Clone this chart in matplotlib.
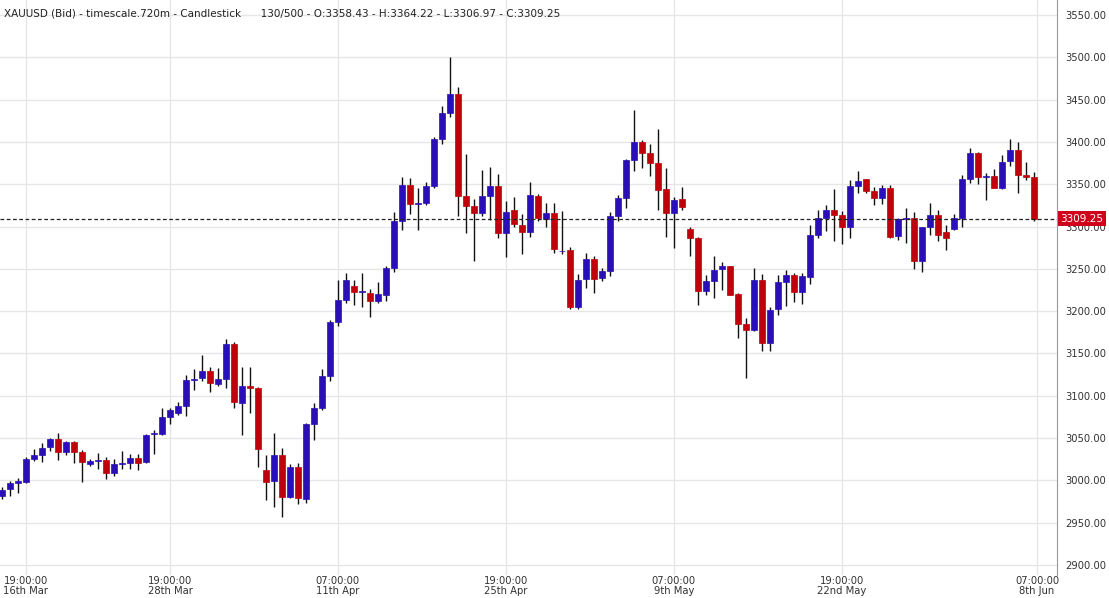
import matplotlib
matplotlib.use("Agg")
import matplotlib.pyplot as plt
import numpy as np

opens = [2981,2990,2997,2998,3025,3030,3039,3049,3034,3045,3034,3019,3023,3024,3009,3019,3020,3026,3022,3055,
         3055,3075,3080,3088,3119,3121,3129,3114,3120,3161,3091,3111,3109,3012,2999,3030,2980,3016,2978,3067,
         3086,3123,3187,3213,3230,3223,3221,3212,3219,3251,3307,3349,3327,3328,3348,3403,3434,3457,3336,3324,
         3316,3336,3348,3292,3319,3302,3294,3336,3309,3316,3271,3272,3205,3238,3262,3239,3248,3312,3334,3379,
         3400,3387,3375,3344,3316,3333,3297,3286,3224,3236,3250,3253,3220,3185,3178,3237,3162,3203,3234,3243,
         3223,3240,3290,3310,3320,3314,3300,3348,3356,3342,3334,3346,3289,3309,3310,3259,3299,3314,3293,3297,
         3310,3356,3387,3359,3360,3346,3377,3391,3361,3358.43]
highs = [2992,2999,3003,3028,3037,3044,3050,3056,3046,3047,3036,3025,3032,3028,3025,3035,3031,3031,3055,3059,
         3086,3085,3093,3124,3132,3148,3134,3133,3167,3164,3134,3134,3110,3030,3056,3038,3019,3021,3068,3091,
         3132,3189,3237,3245,3237,3245,3226,3234,3253,3317,3358,3357,3346,3353,3406,3443,3500,3465,3386,3332,
         3367,3370,3362,3330,3335,3315,3353,3339,3328,3328,3318,3276,3244,3269,3265,3251,3317,3337,3380,3438,
         3402,3397,3415,3369,3335,3347,3300,3288,3243,3265,3258,3253,3222,3192,3251,3244,3205,3243,3249,3245,
         3245,3302,3320,3325,3344,3318,3355,3366,3356,3347,3349,3349,3310,3322,3317,3300,3328,3320,3302,3315,
         3361,3393,3388,3363,3368,3384,3403,3400,3376,3364.22]
lows = [2978,2981,2985,2997,3023,3022,3035,3024,3030,3021,2998,3017,3013,3002,3005,3013,3013,3012,3021,3031,
        3054,3067,3077,3076,3107,3118,3105,3112,3109,3086,3054,3080,3016,2977,2969,2957,2979,2972,2973,3048,
        3083,3117,3183,3210,3207,3205,3193,3210,3212,3246,3296,3315,3296,3326,3346,3398,3430,3312,3292,3259,
        3312,3308,3286,3264,3300,3268,3288,3307,3300,3269,3267,3203,3202,3227,3222,3236,3241,3307,3322,3366,
        3369,3360,3320,3288,3275,3320,3265,3207,3219,3215,3225,3219,3168,3121,3177,3153,3153,3196,3206,3211,
        3208,3232,3286,3295,3283,3279,3286,3340,3340,3325,3327,3286,3284,3280,3250,3246,3290,3283,3272,3296,
        3300,3352,3350,3331,3345,3344,3372,3340,3355,3306.97]
closes = [2989,2997,2999,3025,3030,3038,3049,3034,3045,3034,3022,3023,3024,3009,3019,3020,3026,3021,3054,3055.5,
          3075,3083,3088,3119,3120,3129,3115,3120,3161,3093,3111,3109,3037,2998,3030,2980,3016,2979,3067,3086,
          3123,3187,3213,3237,3223,3223.5,3212,3220,3251,3307,3349,3327,3328,3348,3403,3434,3457,3336,3324,3316,
          3336,3348,3292,3317,3303,3294,3337,3310,3316,3273,3271.5,3205,3237,3262,3238,3248,3312,3334,3379,3400,
          3387,3375,3343,3316,3331,3323,3286,3224,3236,3249,3253,3219,3185,3178,3237,3162,3201,3234,3243,3223,
          3241,3290,3310,3320,3314,3300,3348,3354,3342,3334,3346,3288,3309,3310,3259,3299,3314,3290,3286,3310,
          3356,3387,3359,3360,3346,3376,3391,3361,3358,3309.25]

xtick_pos = [3, 21, 42, 63, 84, 105, 129.4]
xtick_labels = ["19:00:00\n16th Mar", "19:00:00\n28th Mar", "07:00:00\n11th Apr", "19:00:00\n25th Apr",
                "07:00:00\n9th May", "19:00:00\n22nd May", "07:00:00\n8th Jun"]
yticks = list(range(2900, 3551, 50))

BLUE = "#2a0fb8"
RED = "#c2000b"

fig = plt.figure(figsize=(11.09, 5.98), dpi=100)
ax = fig.add_axes([0, 0.0385, 0.9531, 0.9615])
ax.set_xlim(-0.25, 131.9)
ax.set_ylim(2888.2, 3567.7)

x = np.arange(len(opens))
for i in x:
    o, h, l, c = opens[i], highs[i], lows[i], closes[i]
    col = BLUE if c >= o else RED
    ax.vlines(i, l, h, color="#111111", linewidth=1, zorder=2)
    ax.bar(i, max(abs(c - o), 0.6), bottom=min(o, c), width=0.68, color=col,
           edgecolor=col, linewidth=0.5, zorder=3)

ax.set_yticks(yticks)
ax.set_yticklabels([f"{v:.2f}" for v in yticks])
ax.yaxis.tick_right()
ax.set_xticks(xtick_pos)
ax.set_xticklabels(xtick_labels, linespacing=1.0)
ax.tick_params(axis="both", labelsize=7.2, colors="#333333", length=0)
ax.tick_params(axis="x", pad=1)
ax.tick_params(axis="y", pad=6)
ax.grid(True, color="#e6e6e6", linewidth=1, zorder=0)
ax.set_axisbelow(True)
for s in ["left", "top", "bottom"]:
    ax.spines[s].set_visible(False)
ax.spines["right"].set_color("#999999")

last = closes[-1]
ax.axhline(last, color="#222222", linestyle=(0, (3, 2)), linewidth=0.9, zorder=4)
ax.text(1.003, last, f"{last:.2f}", transform=ax.get_yaxis_transform(), fontsize=7.5,
        color="white", va="center", ha="left",
        bbox=dict(boxstyle="square,pad=0.25", facecolor="#d0021b", edgecolor="none"), clip_on=False)

ax.text(0.004, 0.985, "XAUUSD (Bid) - timescale.720m - Candlestick      130/500 - O:3358.43 - H:3364.22 - L:3306.97 - C:3309.25",
        transform=ax.transAxes, fontsize=7.5, color="#222222", va="top", ha="left")

fig.savefig("out.png", dpi=100)
